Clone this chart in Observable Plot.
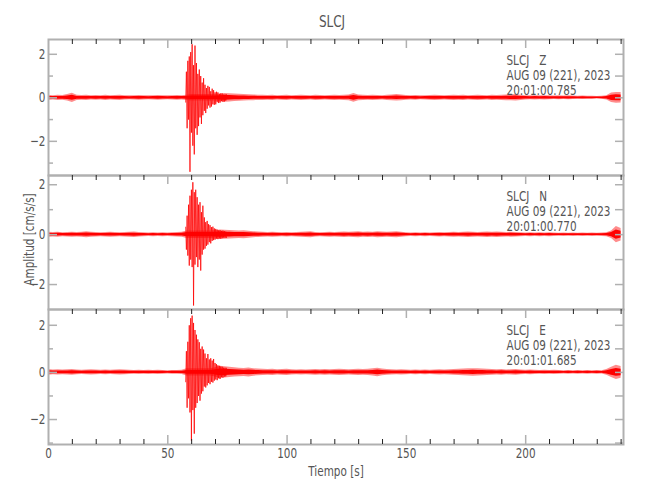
<!DOCTYPE html>
<html><head><meta charset="utf-8">
<script src="https://cdn.jsdelivr.net/npm/d3@7"></script>
<script src="https://cdn.jsdelivr.net/npm/@observablehq/plot@0.6"></script>
<style>
body{margin:0;background:#fff;}
#fig{position:relative;width:650px;height:500px;font-family:"DejaVu Sans",sans-serif;color:#555;}
#title{position:absolute;top:14px;left:332px;transform:translateX(-50%) scaleX(0.75);font-size:16px;line-height:16px;}
.panel{position:absolute;left:0;}
</style></head><body>
<div id="fig"><div id="title">SLCJ</div></div>
<script>
// ---- data ----
const station = "SLCJ";
const components = ["Z", "N", "E"];
const dateLabel = "AUG 09 (221), 2023";
const startTimes = ["20:01:00.785", "20:01:00.770", "20:01:01.685"];
const xTickLabels = [0, 50, 100, 150, 200];
const yTickLabels = [-2, 0, 2];
const yDomains = [[-3.57, 2.68], [-3.0, 2.37], [-3.06, 2.67]];
const timeEnd = 241;

// background noise half-amplitude (cm/s/s), sampled every 2 s from t = 0
const NOISE_STEP = 2;
const noiseZ = [
0.12,0.10,0.12,0.11,0.15,0.21,0.12,0.11,0.12,0.10,
0.11,0.10,0.12,0.10,0.11,0.12,0.10,0.09,0.10,0.11,
0.10,0.09,0.10,0.11,0.10,0.09,0.10,0.11,0.10,0.12,
0.15,0.15,0.15,0.15,0.15,0.15,0.18,0.20,0.19,0.17,
0.16,0.15,0.14,0.13,0.12,0.12,0.11,0.12,0.10,0.11,
0.12,0.10,0.11,0.12,0.11,0.10,0.12,0.11,0.10,0.11,
0.12,0.11,0.12,0.13,0.20,0.13,0.12,0.11,0.12,0.11,
0.10,0.12,0.13,0.15,0.13,0.11,0.10,0.11,0.09,0.10,
0.11,0.12,0.11,0.10,0.11,0.12,0.11,0.12,0.10,0.11,
0.12,0.11,0.10,0.12,0.11,0.12,0.13,0.14,0.15,0.12,
0.10,0.09,0.10,0.09,0.10,0.09,0.08,0.09,0.08,0.09,
0.08,0.07,0.08,0.07,0.07,0.06,0.07,0.10,0.22,0.25,
0.24];
const noiseN = [
0.10,0.09,0.10,0.08,0.09,0.10,0.09,0.10,0.12,0.10,
0.09,0.08,0.09,0.10,0.09,0.08,0.09,0.10,0.11,0.09,
0.08,0.07,0.08,0.07,0.08,0.07,0.08,0.09,0.10,0.15,
0.15,0.15,0.15,0.15,0.15,0.17,0.19,0.18,0.17,0.16,
0.15,0.16,0.14,0.12,0.11,0.10,0.09,0.10,0.09,0.08,
0.09,0.08,0.09,0.10,0.11,0.12,0.09,0.08,0.09,0.10,
0.09,0.10,0.11,0.10,0.11,0.12,0.10,0.11,0.10,0.12,
0.11,0.10,0.11,0.12,0.10,0.08,0.07,0.08,0.07,0.08,
0.07,0.08,0.09,0.08,0.09,0.10,0.09,0.10,0.11,0.10,
0.09,0.10,0.11,0.10,0.11,0.10,0.09,0.10,0.09,0.08,
0.07,0.08,0.07,0.08,0.07,0.08,0.07,0.06,0.07,0.06,
0.07,0.06,0.07,0.06,0.07,0.06,0.07,0.08,0.15,0.33,
0.25];
const noiseE = [
0.12,0.10,0.11,0.10,0.11,0.12,0.10,0.09,0.10,0.11,
0.10,0.09,0.10,0.09,0.10,0.11,0.10,0.09,0.08,0.09,
0.08,0.09,0.08,0.09,0.08,0.07,0.08,0.08,0.09,0.15,
0.15,0.15,0.15,0.15,0.15,0.20,0.26,0.24,0.22,0.20,
0.18,0.17,0.19,0.16,0.14,0.13,0.12,0.13,0.11,0.12,
0.13,0.11,0.10,0.11,0.10,0.11,0.12,0.11,0.12,0.11,
0.12,0.13,0.12,0.11,0.12,0.13,0.12,0.13,0.15,0.18,
0.14,0.12,0.11,0.10,0.11,0.10,0.09,0.10,0.09,0.10,
0.09,0.10,0.11,0.10,0.11,0.12,0.13,0.14,0.15,0.16,
0.15,0.14,0.13,0.12,0.11,0.12,0.10,0.11,0.12,0.10,
0.09,0.10,0.09,0.08,0.09,0.08,0.09,0.08,0.07,0.08,
0.07,0.08,0.07,0.08,0.07,0.08,0.07,0.12,0.22,0.30,
0.25];

// successive peaks of the strong-motion part, every 0.3 s from t = 57.5 s
const EVENT_T0 = 57.5, EVENT_STEP = 0.3;
const eventZ = [
-0.2,1.2,-1.4,1.7,-1.0,1.9,-3.4,2.1,-1.6,2.46,
-2.2,1.5,-2.6,2.4,-1.4,1.6,-1.7,1.1,-1.3,1.3,
-0.9,1.0,-1.2,0.7,-0.8,0.9,-0.6,0.6,-0.7,0.45,
-0.5,0.55,-0.35,0.5,-0.45,0.3,-0.4,0.42,-0.3,0.35,
-0.32,0.25,-0.3,0.28,-0.2,0.25,-0.24,0.18,-0.22,0.2,
-0.15,0.2,-0.18,0.15,-0.17,0.16,-0.13,0.15];
const eventN = [
0.3,-0.6,0.76,-0.84,1.2,-1.24,1.56,-1.0,1.8,-1.3,
2.1,-2.84,1.7,-1.2,1.8,-0.9,1.5,-1.3,1.2,-1.0,
1.3,-1.44,0.9,-0.8,1.16,-0.6,0.69,-0.56,0.5,-0.45,
0.55,-0.4,0.42,-0.3,0.38,-0.35,0.3,-0.25,0.32,-0.22,
0.25,-0.2,0.23,-0.16,0.2,-0.18,0.17,-0.15,0.18,-0.16,
0.15,-0.14,0.16,-0.12,0.14,-0.13,0.12,-0.12];
const eventE = [
-0.4,0.9,-1.5,1.3,-1.1,2.0,-1.7,2.3,-2.9,2.41,
-1.6,2.1,-2.6,1.8,-1.5,1.6,-1.3,1.4,-1.0,1.28,
-1.2,1.0,-0.9,1.1,-0.8,0.97,-0.6,0.8,-0.64,0.6,
-0.55,0.78,-0.45,0.55,-0.5,0.6,-0.4,0.5,-0.43,0.57,
-0.35,0.4,-0.3,0.35,-0.33,0.3,-0.25,0.28,-0.28,0.25,
-0.2,0.24,-0.22,0.2,-0.18,0.2,-0.17,0.18];

const noiseAll = [noiseZ, noiseN, noiseE];
const eventAll = [eventZ, eventN, eventE];

// ---- layout ----
const W = 650, ML = 48, MR = 27, FW = W - ML - MR;
const frames = [{top: 39, h: 136}, {top: 175, h: 134}, {top: 309, h: 135}];
const FONT = '"DejaVu Sans",sans-serif';
const GRAY = "#b0b0b0", TXT = "#555";
const RED = "#ff0000";
const FS = 14.5, SQUEEZE = 0.72;

const xMinor = d3.range(10, 241, 10).filter(v => v % 50 !== 0);
const xMajor = xTickLabels.slice(1);

function panel(k) {
  const {top, h} = frames[k];
  const mt = 10, mb = k === 2 ? 50 : 10;
  const [lo, hi] = yDomains[k];
  const yAll = d3.range(Math.ceil(lo), Math.floor(hi) + 1).filter(v => v > lo + 0.05 && v < hi - 0.05);
  const yMaj = yAll.filter(v => v % 2 === 0);
  const yMin = yAll.filter(v => v % 2 !== 0);
  const noise = noiseAll[k].map((a, i) => ({t: Math.min(i * NOISE_STEP, timeEnd), a}));
  const ev = eventAll[k].map((v, i) => ({t: EVENT_T0 + i * EVENT_STEP, v}));
  const note = [`${station}\u00a0\u00a0\u00a0${components[k]}\n${dateLabel}\n${startTimes[k]}`];
  const marks = [
    Plot.areaY(noise, {x: "t", y1: d => -d.a, y2: d => d.a, fill: RED, fillOpacity: 0.45}),
    Plot.areaY(noise, {x: "t", y1: d => -d.a * 0.55, y2: d => d.a * 0.55, fill: RED}),
    Plot.line(ev, {x: "t", y: "v", stroke: RED, strokeWidth: 0.9, strokeOpacity: 0.85}),
    Plot.frame({stroke: GRAY, strokeWidth: 2}),
    Plot.tickX(xMinor, {x: d => d, stroke: "#222", insetBottom: h - 5}),
    Plot.tickX(xMajor, {x: d => d, stroke: GRAY, strokeWidth: 1.5, insetBottom: h - 9}),
    Plot.tickY(yMaj, {y: d => d, stroke: GRAY, strokeWidth: 1.5, insetRight: FW - 9}),
    Plot.tickY(yMin, {y: d => d, stroke: GRAY, strokeWidth: 1.5, insetRight: FW - 5}),
    Plot.tickY(yAll, {y: d => d, stroke: GRAY, strokeWidth: 1.5, insetLeft: FW - 8}),
    Plot.axisY({ticks: yTickLabels, tickFormat: d => String(d).replace("-", "\u2212"), tickSize: 0, tickPadding: 3,
      label: null, fontSize: FS, fill: TXT}),
    Plot.text(note, {frameAnchor: "top-left", dx: 458, dy: 15, textAnchor: "start", lineAnchor: "top",
      lineHeight: 1.02, fontSize: FS, fill: TXT})
  ];
  if (k === 1) {
    marks.push(Plot.text(["Amplitud [cm/s/s]"], {frameAnchor: "left", dx: -19, dy: -3, rotate: -90,
      textAnchor: "middle", lineAnchor: "middle", fontSize: FS, fill: TXT}));
  }
  if (k === 2) {
    marks.push(
      Plot.tickX(xMinor, {x: d => d, stroke: "#222", insetTop: h - 5}),
      Plot.tickX(xMajor, {x: d => d, stroke: GRAY, strokeWidth: 1.5, insetTop: h - 9}),
      Plot.axisX({ticks: xTickLabels, tickFormat: d => String(d), tickSize: 0, tickPadding: 3, label: null,
        fontSize: FS, fill: TXT}),
      Plot.text(["Tiempo [s]"], {frameAnchor: "bottom", dy: 27, lineAnchor: "middle", fontSize: FS, fill: TXT})
    );
  }
  const svg = Plot.plot({
    width: W, height: mt + h + mb,
    marginLeft: ML, marginRight: MR, marginTop: mt, marginBottom: mb,
    x: k === 2 ? {domain: [0, timeEnd]} : {domain: [0, timeEnd], axis: null},
    y: {domain: yDomains[k]},
    style: {background: "transparent", fontFamily: FONT, color: TXT, overflow: "visible"},
    marks
  });
  // horizontally condense every label around its own anchor (the original uses a narrow font)
  d3.select(svg).selectAll("text").each(function () {
    const x = parseFloat(this.getAttribute("x")) || 0;
    const t = this.getAttribute("transform") || "";
    this.setAttribute("transform", `${t} translate(${x},0) scale(${SQUEEZE},1) translate(${-x},0)`.trim());
  });
  svg.classList.add("panel");
  svg.style.top = (top - mt) + "px";
  svg.style.position = "absolute";
  return svg;
}

const fig = document.getElementById("fig");
for (let k = 0; k < 3; k++) fig.appendChild(panel(k));
</script>
</body></html>
